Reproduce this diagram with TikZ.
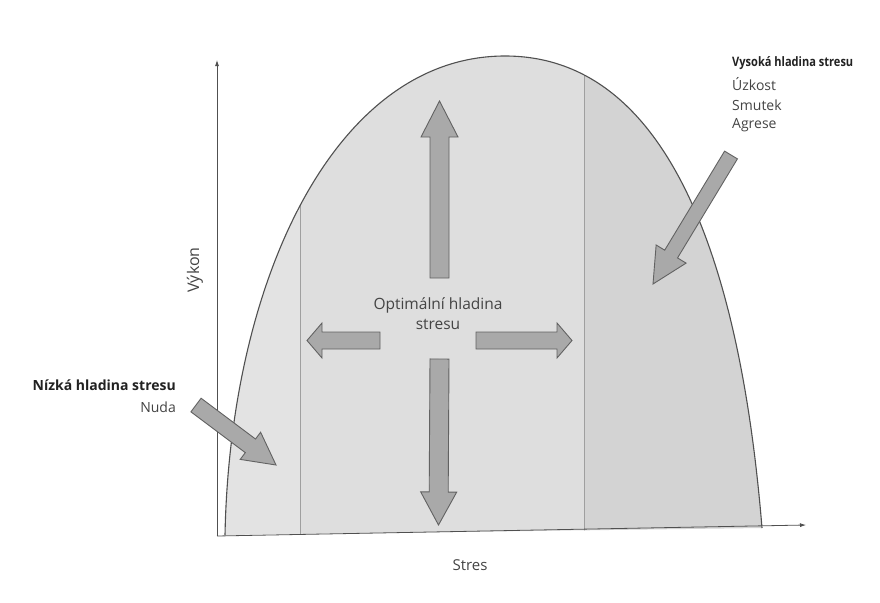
\documentclass[tikz,border=0pt]{standalone}
\usepackage{fontspec}
\setmainfont{Open Sans}
\usetikzlibrary{calc,arrows.meta}

\definecolor{zoneLow}{HTML}{E3E3E3}
\definecolor{zoneMid}{HTML}{DEDEDE}
\definecolor{zoneHigh}{HTML}{D3D3D3}
\definecolor{arrowFill}{HTML}{A9A9A9}
\definecolor{arrowEdge}{HTML}{626262}
\definecolor{curveLine}{HTML}{505050}
\definecolor{labelGray}{HTML}{444444}
\definecolor{labelDark}{HTML}{222222}

\tikzset{
  blockarrow/.style={fill=arrowFill, draw=arrowEdge, line width=0.9pt, line join=miter},
  axisline/.style={draw=curveLine, line width=0.8pt, -{Latex[length=6pt,width=4pt]}},
  divider/.style={draw=gray!75, line width=0.7pt},
  lbl/.style={text=labelGray, font=\fontsize{14}{16}\selectfont, inner sep=0pt},
  lblbold/.style={text=labelDark, font=\fontsize{13}{15}\selectfont\bfseries\addfontfeatures{FakeStretch=0.85}, inner sep=0pt},
  lblbig/.style={text=labelGray, font=\fontsize{15.5}{20}\selectfont, inner sep=0pt},
}

% block arrow from #1 (tail) to #2 (tip): shaft half width #3, head half width #4, head length #5
\newcommand\blockarr[5]{%
  \coordinate (ba-h) at ($(#2)!#5!(#1)$);
  \draw[blockarrow]
    ($(#1)!#3!90:(#2)$) -- ($(ba-h)!#3!-90:(#1)$) -- ($(ba-h)!#4!-90:(#1)$) --
    (#2) -- ($(ba-h)!#4!90:(#1)$) -- ($(ba-h)!#3!90:(#1)$) -- ($(#1)!#3!-90:(#2)$) -- cycle;
}

\begin{document}
\begin{tikzpicture}[x=1pt,y=-1pt]
\useasboundingbox (0,0) rectangle (880,602);
\fill[white] (0,0) rectangle (880,602);

% performance curve outline
\def\perfcurve{(225,535) .. controls (230,280) and (335,56) .. (505,56)
  .. controls (690,56) and (745,320) .. (762,528)}

% shaded stress zones inside the curve
\begin{scope}
  \clip \perfcurve -- (225,535) -- cycle;
  \fill[zoneLow]  (200,40) rectangle (300,545);
  \fill[zoneMid]  (300,40) rectangle (584,545);
  \fill[zoneHigh] (584,40) rectangle (790,545);
  \draw[divider] (300,40) -- (300,540);
  \draw[divider] (584,40) -- (584,540);
\end{scope}
\draw[curveLine, line width=1.1pt] \perfcurve;

% axes
\coordinate (O) at (217,536);
\coordinate (ytop) at (217,60);
\coordinate (xend) at (806,525);
\draw[axisline] (O) -- (ytop);
\draw[axisline] (O) -- (xend);

% arrows around the optimum
\coordinate (upA) at (439.5,278);  \coordinate (upB) at (439.5,101);
\coordinate (dnA) at (439.5,359);  \coordinate (dnB) at (438.5,525);
\coordinate (lfA) at (380,340.5);  \coordinate (lfB) at (307,340.5);
\coordinate (rtA) at (476,340.5);  \coordinate (rtB) at (572,340.5);
\blockarr{upA}{upB}{9.5pt}{18.5pt}{36pt}
\blockarr{dnA}{dnB}{9.5pt}{18pt}{33pt}
\blockarr{lfA}{lfB}{8.5pt}{17.5pt}{15pt}
\blockarr{rtA}{rtB}{8.5pt}{17.5pt}{15pt}

% arrows pointing at the low and high stress zones
\coordinate (loA) at (196,405);  \coordinate (loB) at (276,465);
\coordinate (hiA) at (731,155);  \coordinate (hiB) at (653,284);
\blockarr{loA}{loB}{8.5pt}{17pt}{32pt}
\blockarr{hiA}{hiB}{7.5pt}{17.5pt}{35pt}

% labels
\node[lblbold, anchor=west] (hiT) at (732,63) {Vysoká hladina stresu};
\node[lbl, anchor=west] (hi1) at (732,84) {Úzkost};
\node[lbl, anchor=west] (hi2) at (732,105) {Smutek};
\node[lbl, anchor=west] (hi3) at (732,125) {Agrese};

\node[lblbold, anchor=east, font=\fontsize{14}{16}\selectfont\bfseries] (loT) at (176,385) {Nízká hladina stresu};
\node[lbl, anchor=east] (lo1) at (176,407) {Nuda};

\node[lblbig, align=center] (opt) at (438,314) {Optimální hladina\\stresu};

\node[lbl, rotate=90, font=\fontsize{16}{18}\selectfont] (ylab) at (195,270) {Výkon};
\node[lbl, font=\fontsize{15}{18}\selectfont] (xlab) at (470,565) {Stres};
\end{tikzpicture}
\end{document}
